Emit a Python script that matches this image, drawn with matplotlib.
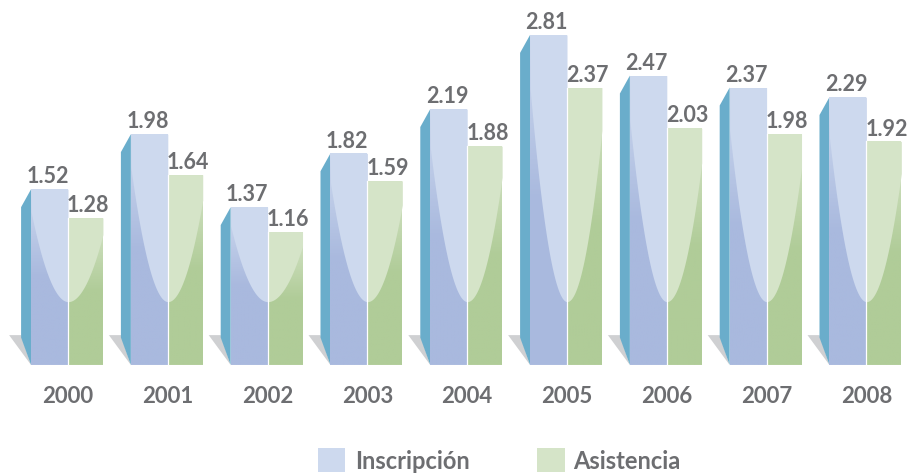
import matplotlib.pyplot as plt
import numpy as np
from matplotlib.patches import Rectangle, Polygon
from matplotlib.colors import LinearSegmentedColormap

years = ['2000', '2001', '2002', '2003', '2004', '2005', '2006', '2007', '2008']
inscripcion = [1.52, 1.98, 1.37, 1.82, 2.19, 2.81, 2.47, 2.37, 2.29]
asistencia = [1.28, 1.64, 1.16, 1.59, 1.88, 2.37, 2.03, 1.98, 1.92]

blue_dark, blue_light = '#a9b9de', '#cdd9ee'
green_dark, green_light = '#b0cc98', '#d5e4c8'
side_col = '#6aadcb'
shadow_col = '#cfd0d2'
text_col = '#6d6e71'

W = 907
H = 473
px_x = 99.8    # pixels per group
px_y = 119.6   # pixels per unit of value
x0_px = 68
base_px = 371

floor = 0.05
vertex = 0.58
w_ins, w_asi = 0.37, 0.35


def gradient_bar(ax, x, width, top, dark, light):
    rect = Rectangle((x, floor), width, top - floor, color=dark, lw=0, zorder=2)
    ax.add_patch(rect)
    cmap = LinearSegmentedColormap.from_list('g', [dark, dark, light], N=256)
    grad = np.linspace(0, 1, 100).reshape(-1, 1)
    im = ax.imshow(grad, cmap=cmap, extent=(x, x + width, floor, top), origin='lower',
                   aspect='auto', zorder=2.5, interpolation='bilinear')
    im.set_clip_path(rect)


def light_overlay(ax, xa, xb, top, junction, width, color):
    xs = np.linspace(xa, xb, 80)
    lower = vertex + 0.8 * (top - vertex) * (np.abs(xs - junction) / width) ** 2
    lower = np.minimum(lower, top)
    ax.fill_between(xs, lower, top, color=color, lw=0, zorder=3)


def main():
    fig = plt.figure(figsize=(W / 100, H / 100), dpi=100)
    ax = fig.add_axes([0, 0, 1, 1])

    for i in range(len(years)):
        xl = i - w_ins
        ins = inscripcion[i]
        asi = asistencia[i]

        # floor shadow
        ax.add_patch(Polygon([(xl - 0.22, 0.30), (xl - 0.1, 0.30), (xl, floor)],
                             closed=True, color=shadow_col, lw=0, zorder=1))
        # side face
        ax.add_patch(Polygon([(xl - 0.1, ins - 0.15), (xl, ins), (xl, floor), (xl - 0.1, 0.28)],
                             closed=True, color=side_col, lw=0, zorder=2))

        # bars
        gradient_bar(ax, xl, w_ins, ins, blue_dark, blue_light)
        gradient_bar(ax, i, w_asi, asi, green_dark, green_light)
        light_overlay(ax, xl, i, ins, i, w_ins, blue_light)
        light_overlay(ax, i, i + w_asi, asi, i, w_asi, green_light)
        ax.plot([i, i], [floor, asi], color='white', lw=0.9, zorder=4)
        ax.plot([xl, i + w_asi], [floor, floor], color='white', lw=0.8, zorder=4)

        # value labels
        ax.text(i + 0.01, ins + 0.015, f'{ins:.2f}', ha='right', va='bottom',
                fontsize=15.5, color=text_col, family='Lato', weight='bold')
        ax.text(i - 0.01, asi + 0.015, f'{asi:.2f}', ha='left', va='bottom',
                fontsize=15.5, color=text_col, family='Lato', weight='bold')

        # year labels
        ax.text(i, -(403 - base_px) / px_y, years[i], ha='center', va='baseline',
                fontsize=16, color=text_col, family='Lato', weight='bold')

    ax.set_xlim(-x0_px / px_x, (W - x0_px) / px_x)
    ax.set_ylim(-(H - base_px) / px_y, base_px / px_y)
    ax.axis('off')

    # legend
    t = ax.transAxes
    ax.add_patch(Rectangle((318 / W, 1 - 472 / H), 27 / W, 24 / H, transform=t,
                           color=blue_light, lw=0, clip_on=False))
    ax.text(355 / W, 1 - 469 / H, 'Inscripción', transform=t, fontsize=17,
            color=text_col, family='Lato', weight='bold', va='baseline', ha='left')
    ax.add_patch(Rectangle((537 / W, 1 - 472 / H), 28 / W, 24 / H, transform=t,
                           color=green_light, lw=0, clip_on=False))
    ax.text(573 / W, 1 - 469 / H, 'Asistencia', transform=t, fontsize=17,
            color=text_col, family='Lato', weight='bold', va='baseline', ha='left')

    fig.savefig('out.png', dpi=100)


if __name__ == '__main__':
    main()
